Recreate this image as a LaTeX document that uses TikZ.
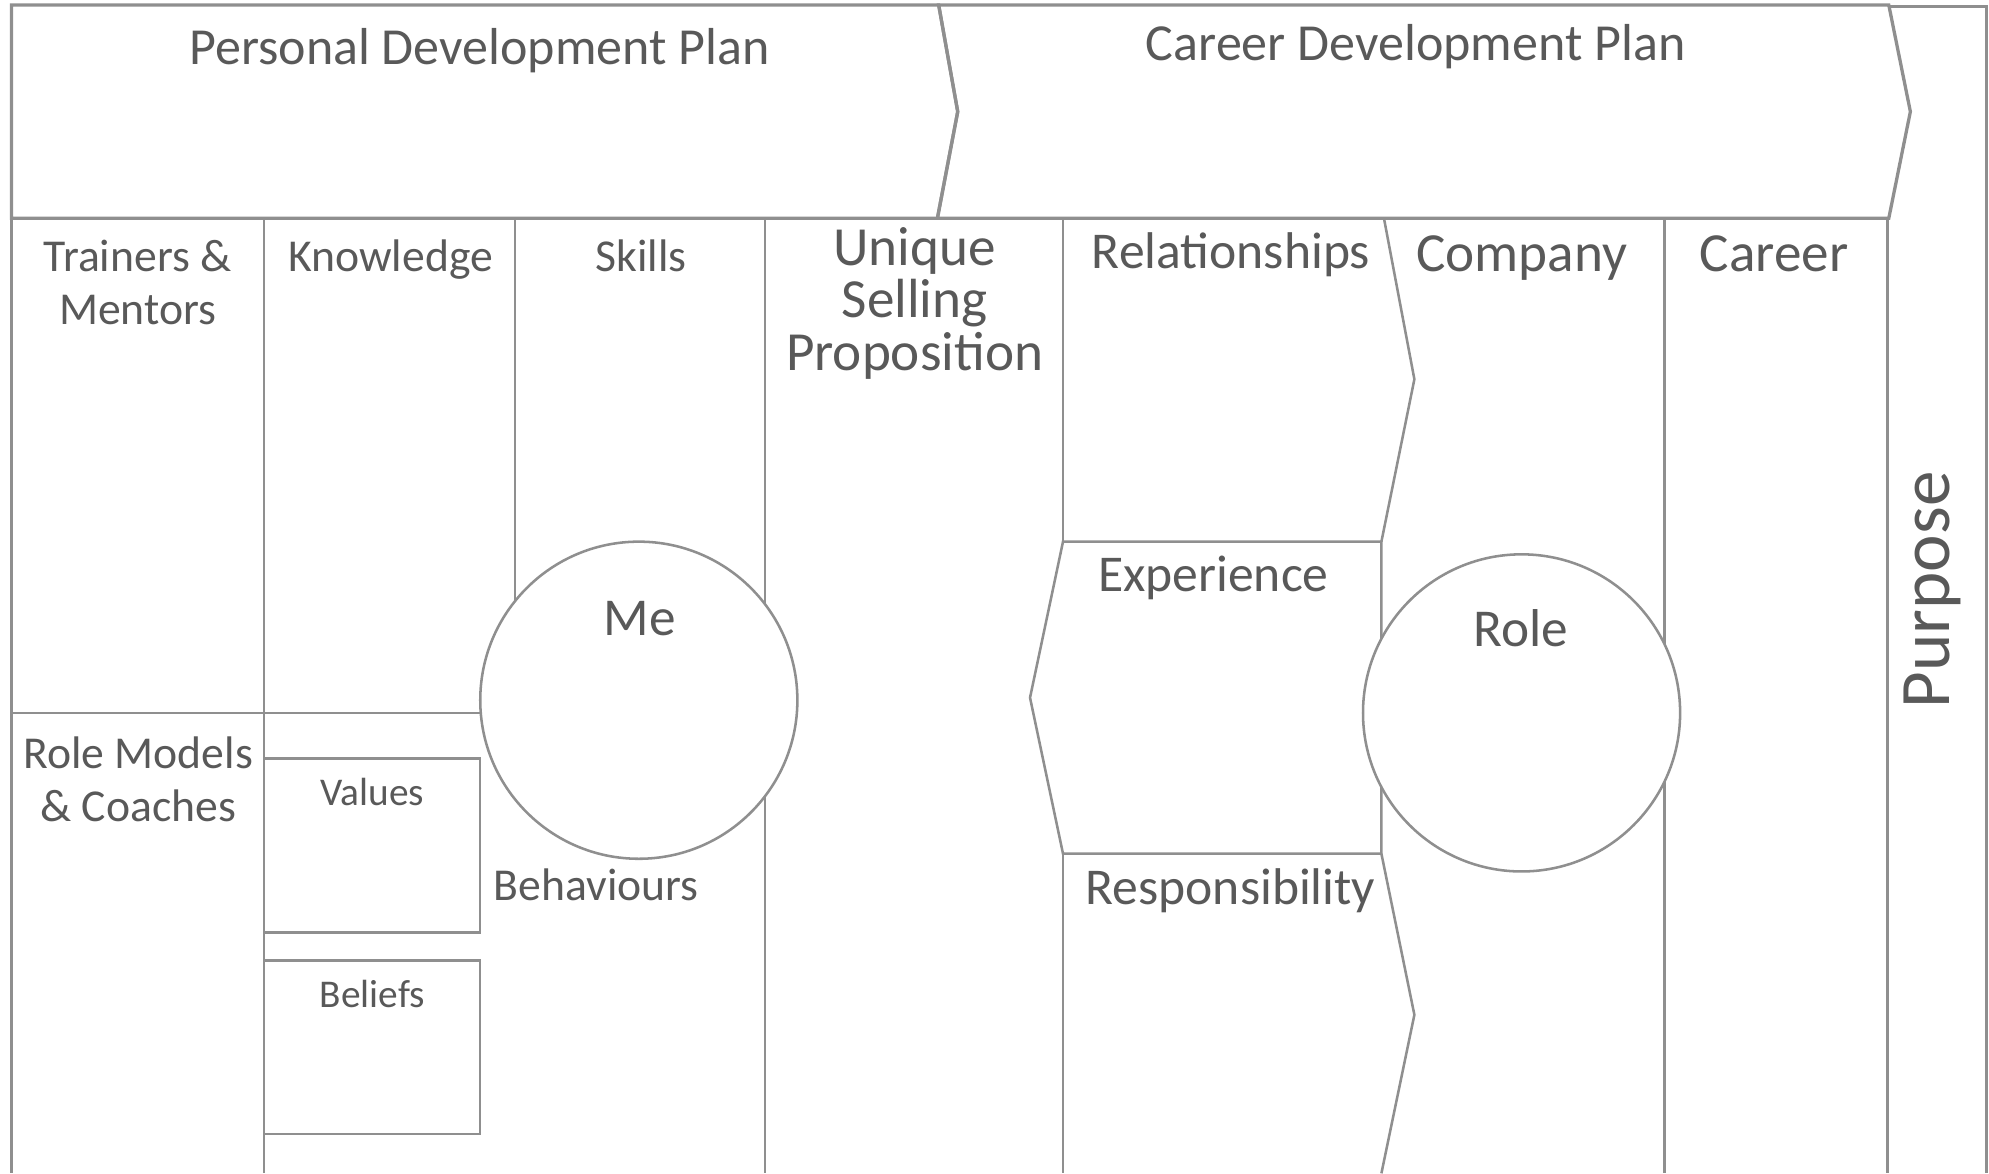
\documentclass[tikz,border=0pt]{standalone}
\usepackage{fontspec}
\setmainfont{Carlito}
\definecolor{lncol}{HTML}{8F8F8F}
\definecolor{txcol}{HTML}{595959}
\begin{document}
\begin{tikzpicture}[x=0.5pt,y=-0.5pt,
  ln/.style={draw=lncol,line width=1pt,line join=miter},
  lbl/.style={text=txcol,inner sep=0pt,anchor=base},
  fPlan/.style={font=\fontsize{20.5}{24}\selectfont},
  fCol/.style={font=\fontsize{18}{21}\selectfont},
  fBig/.style={font=\fontsize{21.75}{24}\selectfont},
  fMid/.style={font=\fontsize{20.35}{24}\selectfont},
  fCirc/.style={font=\fontsize{21}{24}\selectfont},
  fSmall/.style={font=\fontsize{15.5}{18}\selectfont},
  fPurp/.style={font=\fontsize{28}{32}\selectfont},
  bubble/.style={circle,draw=lncol,line width=1pt,fill=white,minimum size=125pt,inner sep=0pt}
]
\useasboundingbox (0,0) rectangle (1568,925);
% top band chevrons
\draw[ln,line width=1.3pt] (9,4) -- (740,4) -- (755,88) -- (739,172) -- (9,172) -- cycle;
\draw[ln,line width=1.3pt] (740,4) -- (1489,4) -- (1506,88) -- (1489,172) -- (739,172) -- (755,88) -- cycle;
% purpose column
\draw[ln] (1489,5) -- (1566,5) -- (1566,925);
\draw[ln] (1488,172) -- (1488,925);
% lower columns
\draw[ln] (9,172) -- (9,925);
\draw[ln] (208,172) -- (208,925);
\draw[ln] (406,172) -- (406,552);
\draw[ln] (603,172) -- (603,925);
\draw[ln] (838,172) -- (838,427);
\draw[ln] (838,673) -- (838,925);
\draw[ln] (1091,172) -- (1115,299) -- (1089,427);
\draw[ln] (838,427) -- (1089,427) -- (1089,673) -- (838,673) -- (812,550) -- cycle;
\draw[ln] (1089,673) -- (1115,800) -- (1089,925);
\draw[ln] (1312,172) -- (1312,925);
% left dividers and boxes
\draw[ln] (9,562) -- (400,562);
\draw[ln] (208,598) rectangle (378.5,735);
\draw[ln] (208,757) rectangle (378.5,894);
% circles
\node[bubble] (me) at (503.6,552) {};
\node[bubble] (role) at (1199.5,562) {};
% texts
\node[lbl,fPlan] (pdp) at (378,51) {Personal Development Plan};
\node[lbl,fPlan] (cdp) at (1116,48) {Career Development Plan};
\node[lbl,fCol] (tm1) at (108.5,214) {Trainers \&};
\node[lbl,fCol] (tm2) at (108.5,256) {Mentors};
\node[lbl,fCol] (know) at (308,214) {Knowledge};
\node[lbl,fCol] (skills) at (505.5,214) {Skills};
\node[lbl,fBig] (usp1) at (721,209) {Unique};
\node[lbl,fBig] (usp2) at (721,250.5) {Selling};
\node[lbl,fBig] (usp3) at (721,292) {Proposition};
\node[lbl,fMid] (rel) at (970.5,212) {Relationships};
\node[lbl,fBig] (comp) at (1199.5,214) {Company};
\node[lbl,fBig] (car) at (1398.5,214) {Career};
\node[lbl,fCol] (rm1) at (109,606) {Role Models};
\node[lbl,fCol] (rm2) at (109,648) {\& Coaches};
\node[lbl,fSmall] (val) at (293.5,635) {Values};
\node[lbl,fSmall] (bel) at (293.5,794) {Beliefs};
\node[lbl,fCol] (beh) at (470,710) {Behaviours};
\node[lbl,fCirc] (metext) at (504.5,501) {Me};
\node[lbl,fCirc] (roletext) at (1199,510) {Role};
\node[lbl,fMid] (exp) at (956.5,466) {Experience};
\node[lbl,fMid] (resp) at (970,713) {Responsibility};
\node[lbl,fPurp,rotate=90] (purp) at (1537,465) {Purpose};
\end{tikzpicture}
\end{document}
